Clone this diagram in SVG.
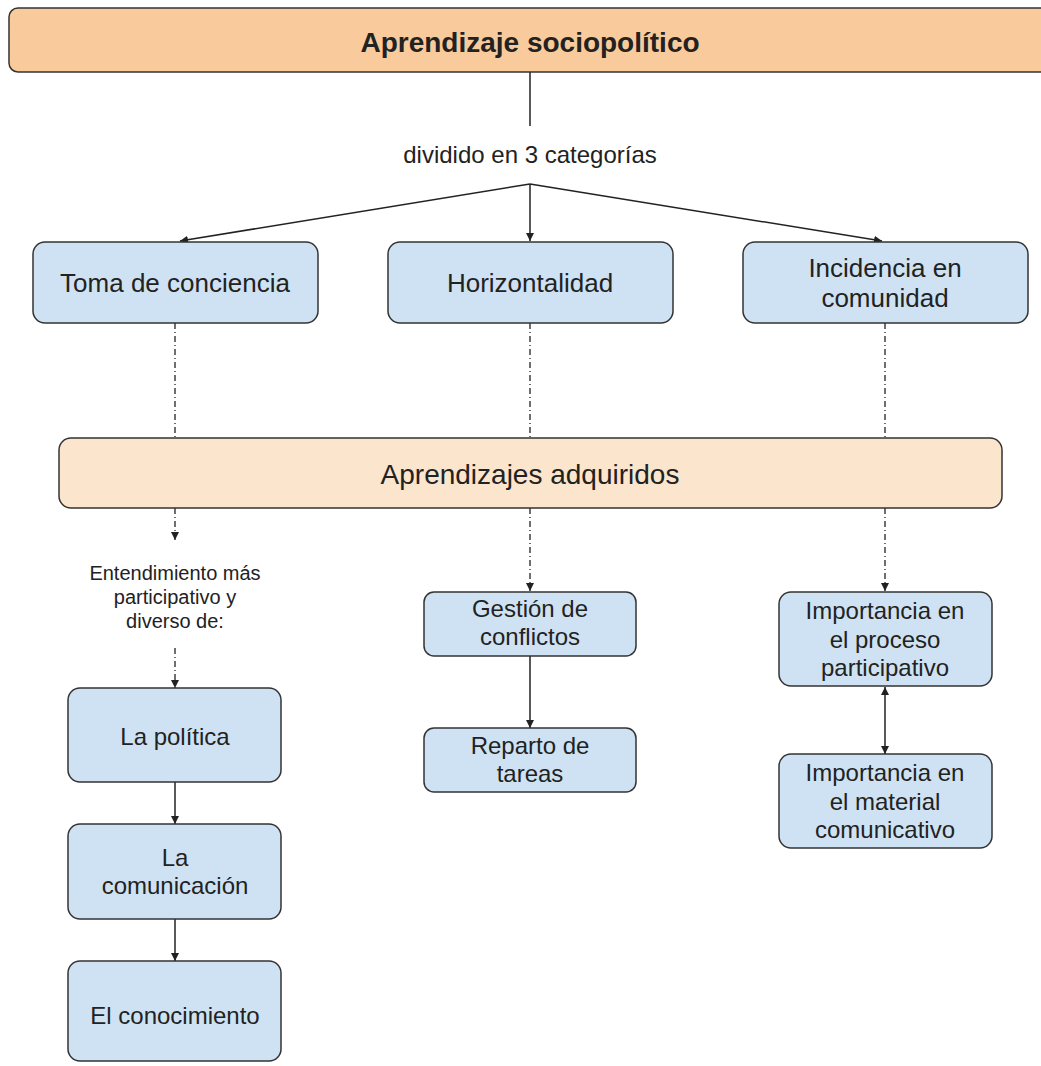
<svg xmlns="http://www.w3.org/2000/svg" width="1041" height="1066" viewBox="0 0 1041 1066">
  <style>
    text { font-family: "Liberation Sans", Arial, sans-serif; fill: #222; text-anchor: middle; }
    .box { stroke: #333; stroke-width: 1.5; }
    .blue { fill: #cfe2f3; }
    .peach { fill: #fce5cd; }
    .orange { fill: #f9cb9c; }
    .t1 { font-size: 26px; }
    .t { font-size: 24px; }
    .small { font-size: 20px; }
    .line { stroke: #222; stroke-width: 1.5; fill: none; }
    .dd { stroke: #222; stroke-width: 1.3; fill: none; stroke-dasharray: 6 3 1 3; }
  </style>
  <defs>
    <marker id="arr" viewBox="0 0 10 10" refX="10" refY="5" markerWidth="8" markerHeight="8" markerUnits="userSpaceOnUse" orient="auto-start-reverse">
      <path d="M0,0 L10,5 L0,10 z" fill="#222"/>
    </marker>
  </defs>

  <g id="connectors">
    <line class="line" x1="530" y1="72" x2="530" y2="126"/>
    <line class="line" x1="530" y1="184" x2="180" y2="241" marker-end="url(#arr)"/>
    <line class="line" x1="530" y1="184" x2="530" y2="241" marker-end="url(#arr)"/>
    <line class="line" x1="530" y1="184" x2="882" y2="241" marker-end="url(#arr)"/>

    <line class="dd" x1="175" y1="323" x2="175" y2="438"/>
    <line class="dd" x1="530" y1="323" x2="530" y2="438"/>
    <line class="dd" x1="885" y1="323" x2="885" y2="438"/>

    <line class="dd" x1="175" y1="508" x2="175" y2="540" marker-end="url(#arr)"/>
    <line class="dd" x1="175" y1="648" x2="175" y2="688" marker-end="url(#arr)"/>
    <line class="line" x1="175" y1="782" x2="175" y2="824" marker-end="url(#arr)"/>
    <line class="line" x1="175" y1="919" x2="175" y2="961" marker-end="url(#arr)"/>

    <line class="dd" x1="530" y1="508" x2="530" y2="591" marker-end="url(#arr)"/>
    <line class="line" x1="530" y1="656" x2="530" y2="728" marker-end="url(#arr)"/>

    <line class="dd" x1="885" y1="508" x2="885" y2="591" marker-end="url(#arr)"/>
    <line class="line" x1="885" y1="687" x2="885" y2="754" marker-start="url(#arr)" marker-end="url(#arr)"/>
  </g>

  <g id="root">
    <rect class="box orange" x="9" y="8" width="1040" height="64" rx="9"/>
    <text x="530" y="52" style="font-size:28px;font-weight:bold">Aprendizaje sociopolítico</text>
  </g>

  <g id="label-categorias">
    <text x="530" y="163" style="font-size:24px">dividido en 3 categorías</text>
  </g>

  <g id="toma-conciencia">
    <rect class="box blue" x="33" y="242" width="285" height="81" rx="12"/>
    <text class="t1" x="175" y="292">Toma de conciencia</text>
  </g>
  <g id="horizontalidad">
    <rect class="box blue" x="388" y="242" width="285" height="81" rx="12"/>
    <text class="t1" x="530" y="292">Horizontalidad</text>
  </g>
  <g id="incidencia">
    <rect class="box blue" x="743" y="242" width="285" height="81" rx="12"/>
    <text class="t1" x="885" y="277">Incidencia en</text>
    <text class="t1" x="885" y="307">comunidad</text>
  </g>

  <g id="aprendizajes">
    <rect class="box peach" x="59" y="438" width="943" height="70" rx="12"/>
    <text x="530" y="484" style="font-size:28px">Aprendizajes adquiridos</text>
  </g>

  <g id="label-entendimiento">
    <text class="small" x="175" y="580">Entendimiento más</text>
    <text class="small" x="175" y="604">participativo y</text>
    <text class="small" x="175" y="628">diverso de:</text>
  </g>

  <g id="politica">
    <rect class="box blue" x="68" y="688" width="213" height="94" rx="12"/>
    <text class="t" x="175" y="745">La política</text>
  </g>
  <g id="comunicacion">
    <rect class="box blue" x="68" y="824" width="213" height="95" rx="12"/>
    <text class="t" x="175" y="866">La</text>
    <text class="t" x="175" y="894">comunicación</text>
  </g>
  <g id="conocimiento">
    <rect class="box blue" x="68" y="961" width="213" height="100" rx="12"/>
    <text class="t" x="175" y="1024">El conocimiento</text>
  </g>

  <g id="gestion">
    <rect class="box blue" x="424" y="592" width="212" height="64" rx="10"/>
    <text class="t" x="530" y="617">Gestión de</text>
    <text class="t" x="530" y="645">conflictos</text>
  </g>
  <g id="reparto">
    <rect class="box blue" x="424" y="728" width="212" height="64" rx="10"/>
    <text class="t" x="530" y="754">Reparto de</text>
    <text class="t" x="530" y="782">tareas</text>
  </g>

  <g id="proceso">
    <rect class="box blue" x="779" y="592" width="213" height="94" rx="12"/>
    <text class="t" x="885" y="619">Importancia en</text>
    <text class="t" x="885" y="648">el proceso</text>
    <text class="t" x="885" y="676">participativo</text>
  </g>
  <g id="material">
    <rect class="box blue" x="779" y="754" width="213" height="94" rx="12"/>
    <text class="t" x="885" y="781">Importancia en</text>
    <text class="t" x="885" y="810">el material</text>
    <text class="t" x="885" y="838">comunicativo</text>
  </g>
</svg>
